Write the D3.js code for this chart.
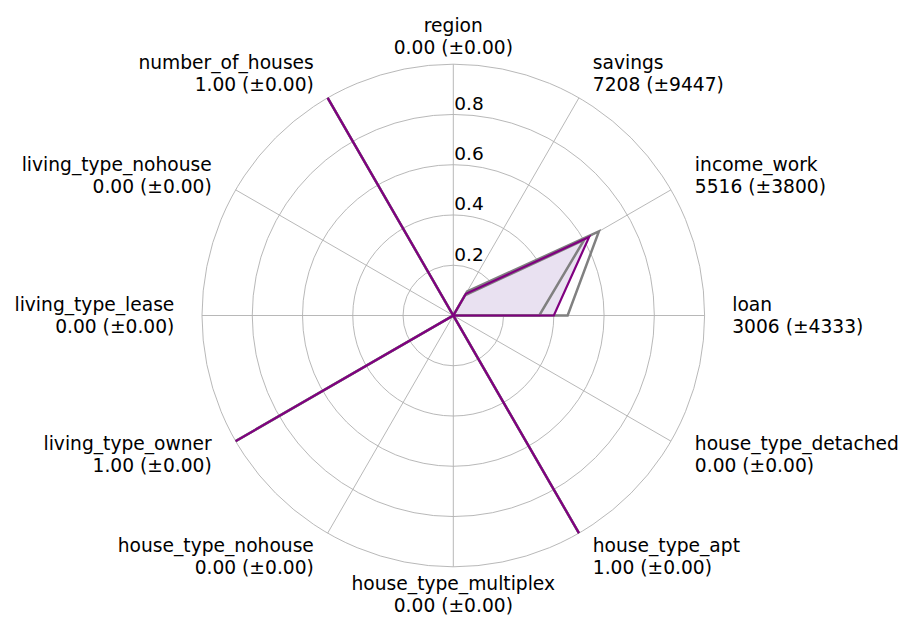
<!DOCTYPE html>
<html>
<head>
<meta charset="utf-8">
<script src="https://cdn.jsdelivr.net/npm/d3@7"></script>
<style>
  html, body { margin: 0; padding: 0; background: #fff; }
  svg { display: block; font-family: "DejaVu Sans", sans-serif; }
</style>
</head>
<body>
<svg id="chart" width="914" height="628"></svg>
<script>
const categories = ["region", "savings", "income_work", "loan", "house_type_detached",
  "house_type_apt", "house_type_multiplex", "house_type_nohouse", "living_type_owner",
  "living_type_lease", "living_type_nohouse", "number_of_houses"];
const statLabels = ["0.00 (\u00b10.00)", "7208 (\u00b19447)", "5516 (\u00b13800)", "3006 (\u00b14333)",
  "0.00 (\u00b10.00)", "1.00 (\u00b10.00)", "0.00 (\u00b10.00)", "0.00 (\u00b10.00)",
  "1.00 (\u00b10.00)", "0.00 (\u00b10.00)", "0.00 (\u00b10.00)", "1.00 (\u00b10.00)"];
const meanValues  = [0, 0.100, 0.624, 0.400, 0, 1, 0, 0, 1, 0, 0, 1];
const upperValues = [0, 0.110, 0.669, 0.455, 0, 1, 0, 0, 1, 0, 0, 1];
const lowerValues = [0, 0.092, 0.601, 0.342, 0, 1, 0, 0, 1, 0, 0, 1];
const rTicks = [0.2, 0.4, 0.6, 0.8];
const rRings = [0.2, 0.4, 0.6, 0.8, 1.0];

const svg = d3.select("#chart");
const cx = 453.3, cy = 315.5, R = 251.3;
const g = svg.append("g").attr("transform", `translate(${cx},${cy})`);

const r = d3.scaleLinear().domain([0, 1]).range([0, R]);
const angle = d3.scaleLinear().domain([0, categories.length]).range([0, 2 * Math.PI]);

// grid rings
g.selectAll("circle.ring").data(rRings).enter().append("circle")
  .attr("class", "ring").attr("r", d => r(d))
  .attr("fill", "none").attr("stroke", "#b0b0b0").attr("stroke-width", 0.9);

// spokes
g.selectAll("line.spoke").data(categories).enter().append("line")
  .attr("x1", 0).attr("y1", 0)
  .attr("x2", (d, i) => r(1) * Math.sin(angle(i)))
  .attr("y2", (d, i) => -r(1) * Math.cos(angle(i)))
  .attr("stroke", "#b0b0b0").attr("stroke-width", 0.9);

const radial = d3.lineRadial()
  .angle((d, i) => angle(i))
  .radius(d => r(d))
  .curve(d3.curveLinearClosed);

// fill
g.append("path").attr("d", radial(meanValues))
  .attr("fill", "rgb(233,225,241)").attr("stroke", "none");

// gray bounds
[upperValues, lowerValues].forEach(vals => {
  g.append("path").attr("d", radial(vals))
    .attr("fill", "none").attr("stroke", "#808080").attr("stroke-width", 2.5)
    .attr("stroke-linejoin", "miter");
});

// main line
g.append("path").attr("d", radial(meanValues))
  .attr("fill", "none").attr("stroke", "#800080").attr("stroke-width", 2.2);

// radial tick labels
g.selectAll("text.rtick").data(rTicks).enter().append("text")
  .attr("x", 1).attr("y", d => -r(d) - 4.5)
  .attr("font-size", "18.5px").attr("fill", "#000")
  .text(d => d.toFixed(1));

// category labels
const labelR = R * 1.11;
const labels = g.selectAll("text.cat").data(categories).enter().append("text")
  .attr("font-size", "18.67px").attr("fill", "#000")
  .attr("text-anchor", (d, i) => {
    const s = Math.sin(angle(i));
    return s > 0.01 ? "start" : (s < -0.01 ? "end" : "middle");
  })
  .attr("transform", (d, i) => {
    const a = angle(i);
    return `translate(${labelR * Math.sin(a)},${-labelR * Math.cos(a)})`;
  });
labels.append("tspan").attr("x", 0).attr("y", -4.8).text(d => d);
labels.append("tspan").attr("x", 0).attr("y", 17.2).text((d, i) => statLabels[i]);
</script>
</body>
</html>
